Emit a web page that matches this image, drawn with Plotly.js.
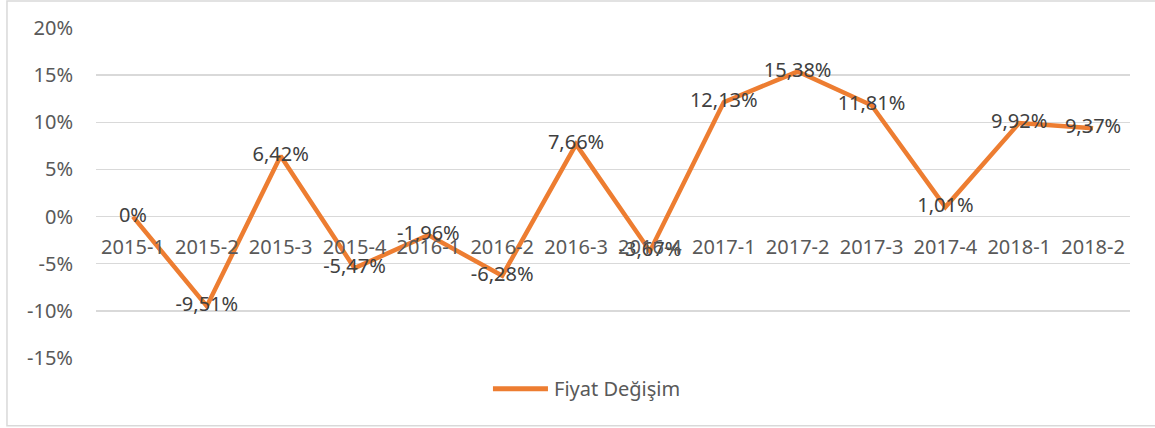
<!DOCTYPE html>
<html>
<head>
<meta charset="utf-8">
<script src="https://cdn.plot.ly/plotly-3.0.1.min.js"></script>
<style>html,body{margin:0;padding:0;background:#fff;}#chart{width:1155px;height:428px;}</style>
</head>
<body>
<div id="chart"></div>
<script>
const categories = ["2015-1","2015-2","2015-3","2015-4","2016-1","2016-2","2016-3","2016-4","2017-1","2017-2","2017-3","2017-4","2018-1","2018-2"];
const values = [0, -9.51, 6.42, -5.47, -1.96, -6.28, 7.66, -3.67, 12.13, 15.38, 11.81, 1.01, 9.92, 9.37];
const seriesName = "Fiyat Değişim";
const yTicks = [-15, -10, -5, 0, 5, 10, 15, 20];
const yTickText = ["-15%", "-10%", "-5%", "0%", "5%", "10%", "15%", "20%"];

const labels = values.map(v => (v === 0 ? "0" : v.toFixed(2).replace(".", ",")) + "%");

const trace = {
  x: categories,
  y: values,
  type: "scatter",
  mode: "lines+text",
  name: seriesName,
  text: labels,
  textposition: "middle center",
  textfont: {family: "Noto Sans, sans-serif", size: 20, color: "#404040"},
  line: {color: "#ED7D31", width: 4.5},
  cliponaxis: false,
  hoverinfo: "skip",
  showlegend: false
};

const layout = {
  width: 1155,
  height: 428,
  margin: {l: 96, r: 25, t: 28, b: 70},
  paper_bgcolor: "#ffffff",
  plot_bgcolor: "#ffffff",
  font: {family: "Noto Sans, sans-serif", size: 20, color: "#595959"},
  showlegend: false,
  xaxis: {
    type: "category",
    range: [-0.5, 13.5],
    anchor: "free",
    position: 15/35,
    showgrid: false,
    zeroline: false,
    showline: false,
    ticks: "outside",
    ticklen: 12,
    tickcolor: "rgba(0,0,0,0)",
    tickfont: {size: 20, color: "#595959"},
    fixedrange: true
  },
  yaxis: {
    range: [-15, 20],
    tickmode: "array",
    tickvals: yTicks,
    ticktext: yTickText,
    showgrid: true,
    gridcolor: "#D9D9D9",
    gridwidth: 1.5,
    zeroline: false,
    showline: false,
    ticks: "",
    ticklabelstandoff: 22,
    tickfont: {size: 20, color: "#595959"},
    fixedrange: true
  },
  shapes: [{
    type: "rect", xref: "paper", yref: "paper",
    x0: -0.0861, x1: 1.03, y0: -0.205, y1: 1.0818,
    line: {color: "#D9D9D9", width: 1.5},
    fillcolor: "rgba(0,0,0,0)",
    layer: "below"
  }, {
    type: "line", xref: "paper", yref: "paper",
    x0: 0.3839, x1: 0.4371, y0: -0.093, y1: -0.093,
    line: {color: "#ED7D31", width: 5}
  }],
  annotations: [{
    xref: "paper", yref: "paper",
    x: 0.441, y: -0.093,
    xanchor: "left", yanchor: "middle",
    text: seriesName,
    showarrow: false,
    font: {size: 20, color: "#595959"}
  }]
};

Plotly.newPlot("chart", [trace], layout, {displayModeBar: false, staticPlot: true});
</script>
</body>
</html>
